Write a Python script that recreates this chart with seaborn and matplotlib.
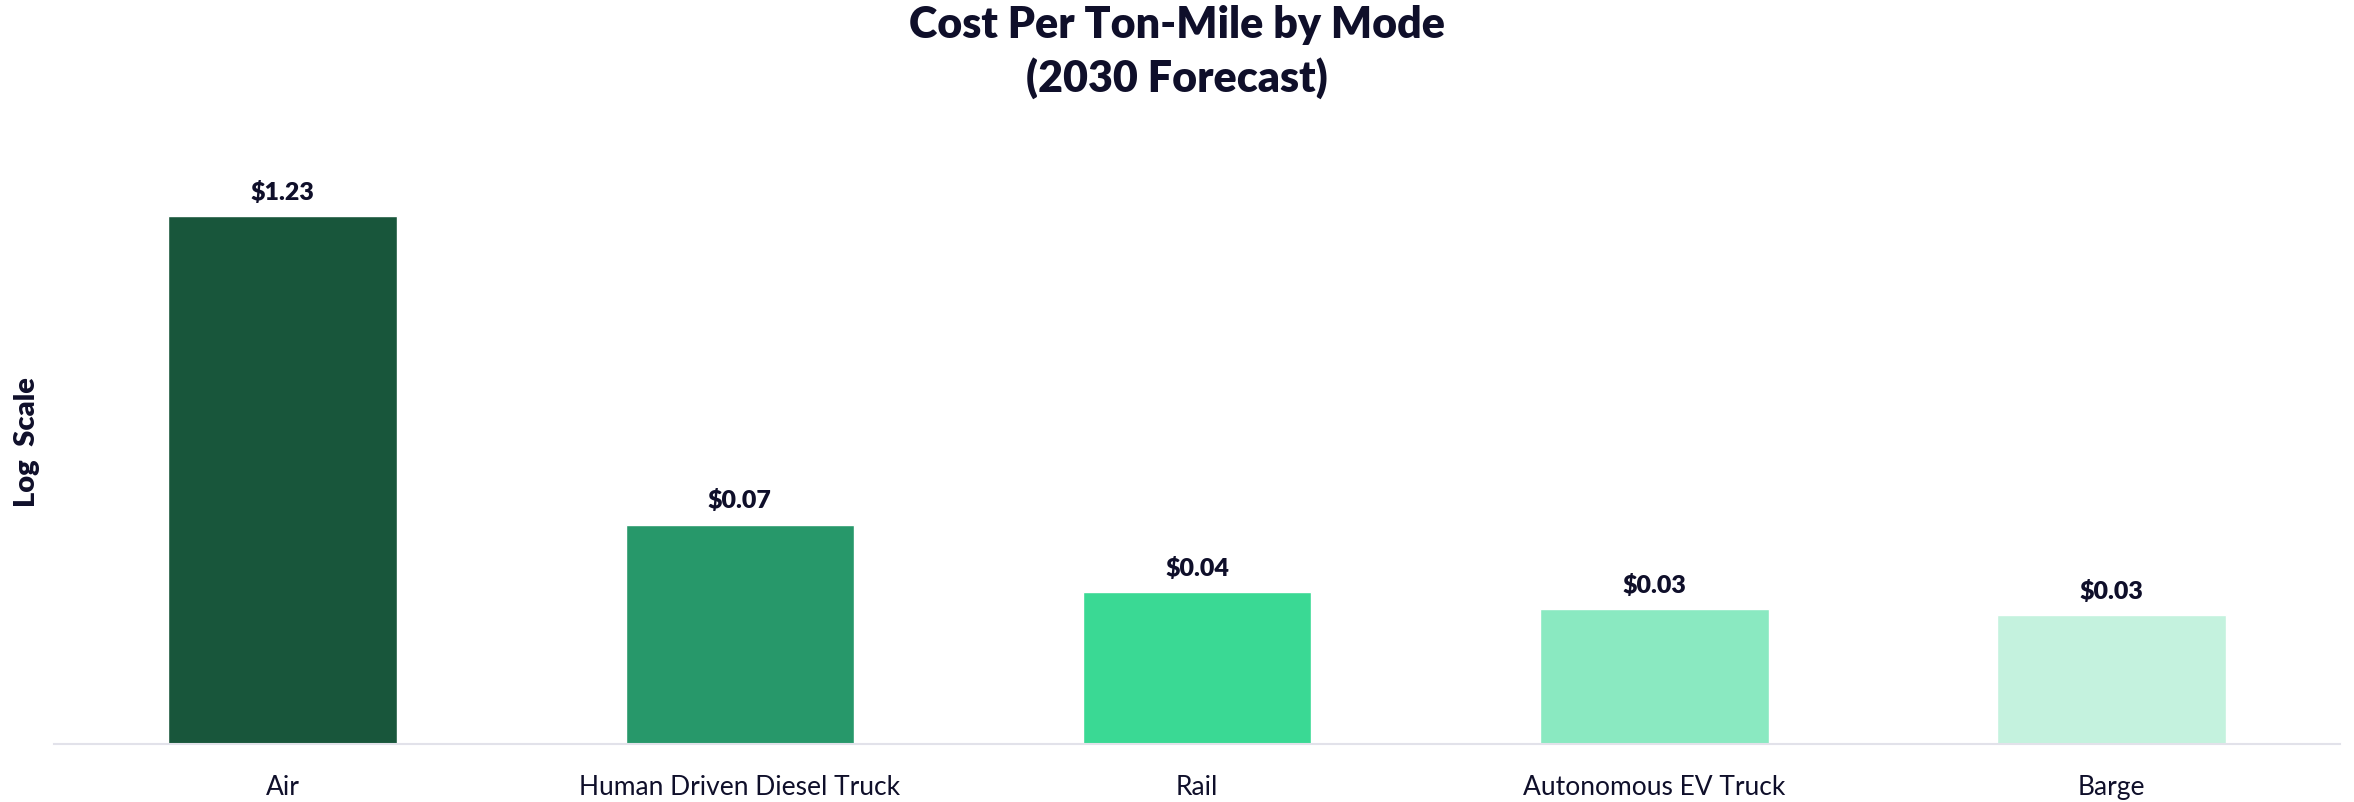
import pandas as pd
import numpy as np
import matplotlib
matplotlib.use("Agg")
import matplotlib.pyplot as plt
import seaborn as sns

# 数据
modes = ["Air", "Human Driven Diesel Truck", "Rail", "Autonomous EV Truck", "Barge"]
cost_per_ton_mile = [1.23, 0.0736, 0.0398, 0.0342, 0.0324]
bar_colors = ["#18563B", "#27986A", "#3AD994", "#8AE9C1", "#C4F2DE"]

text_color = "#0F0F2A"

sns.set_theme(style="white")
plt.rcParams["font.family"] = ["Lato", "DejaVu Sans"]

df = pd.DataFrame({"mode": modes, "cost": cost_per_ton_mile})

fig = plt.figure(figsize=(23.54, 8.02), dpi=100)
ax = fig.add_axes([54 / 2354, 1 - 744 / 802, (2340 - 54) / 2354, (744 - 150) / 802])
ax.set_yscale("log")

sns.barplot(data=df, x="mode", y="cost", hue="mode", palette=bar_colors,
            width=0.5, legend=False, ax=ax, saturation=1)

ax.set_ylim(0.01, 2.245)
ax.set_xlim(-0.5, len(modes) - 0.5)

# 柱顶标签
for container in ax.containers:
    vals = [b.get_height() for b in container]
    ax.bar_label(container, labels=[f"${v:.2f}" for v in vals], padding=9,
                 fontsize=18, fontweight="heavy", color=text_color)

# 坐标轴样式
for s in ["top", "right", "left"]:
    ax.spines[s].set_visible(False)
ax.spines["bottom"].set_color("#E2E2EA")
ax.spines["bottom"].set_linewidth(1.5)
ax.set_yticks([])
ax.set_yticks([], minor=True)
ax.tick_params(axis="x", length=0, pad=22, labelsize=19, labelcolor=text_color)
ax.set_xlabel("")
ax.set_ylabel("")

# y轴标签
fig.text(27 / 2354, 1 - 442 / 802, "Log  Scale", rotation=90, ha="center", va="center",
         fontsize=21, fontweight="heavy", color=text_color)

fig.text(0.5, 1 - 25 / 802, "Cost Per Ton-Mile by Mode", ha="center", va="center",
         fontsize=31, fontweight="heavy", color=text_color)
fig.text(0.5, 1 - 78 / 802, "(2030 Forecast)", ha="center", va="center",
         fontsize=31, fontweight="heavy", color=text_color)

fig.savefig("out.png", dpi=100, facecolor="white")
plt.close(fig)
